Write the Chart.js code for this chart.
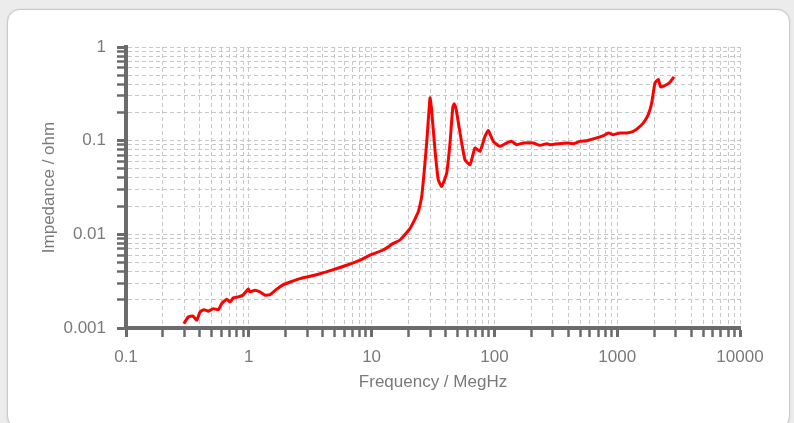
<!DOCTYPE html>
<html>
<head>
<meta charset="utf-8">
<script src="https://cdn.jsdelivr.net/npm/chart.js@4/dist/chart.umd.min.js"></script>
<style>
  html, body { margin: 0; padding: 0; background: #ececec; width: 794px; height: 423px; overflow: hidden; }
  #card { position: absolute; left: 7px; top: 9px; width: 783px; height: 420px; background: #fff;
          border: 1.5px solid #c9c9c9; border-radius: 13px; box-sizing: border-box;
          box-shadow: 0 0 2px rgba(0,0,0,0.12); }
  #wrap { position: absolute; left: 0; top: 0; width: 794px; height: 423px; }
</style>
</head>
<body>
<div id="card"></div>
<div id="wrap"><canvas id="c"></canvas></div>
<script>
// Data
const frequency = [
  0.296, 0.321, 0.351, 0.377, 0.400, 0.432, 0.468, 0.514, 0.565, 0.601,
  0.661, 0.703, 0.748, 0.821, 0.892, 0.991, 1.02, 1.12, 1.23, 1.36,
  1.49, 1.69, 1.91, 2.17, 2.61, 3.15, 3.80, 4.88, 6.27, 8.05,
  9.7, 12.4, 15.0, 17.0, 20.5, 24.0, 25.6, 28.1, 29.9, 30.8,
  32.8, 34.9, 37.2, 40.9, 43.5, 45.8, 47.0, 48.7, 52.5, 57.6, 63.3,
  69.5, 76.3, 83.8, 89.2, 97.9, 111, 126, 138, 152, 172,
  207, 235, 267, 284, 388, 439, 498, 565, 681, 771,
  847, 929, 1054, 1194, 1352, 1486, 1633, 1791, 1910, 2032,
  2162, 2260, 2450, 2690, 2900
];
const impedance = [
  0.00111, 0.00131, 0.00134, 0.00121, 0.00148, 0.00157, 0.00151, 0.00161, 0.00157, 0.00182,
  0.00203, 0.00190, 0.00210, 0.00215, 0.00224, 0.00260, 0.00243, 0.00253, 0.00243, 0.00224,
  0.00227, 0.00260, 0.00290, 0.00310, 0.00337, 0.00357, 0.00380, 0.00420, 0.00468, 0.00530,
  0.00600, 0.00680, 0.00800, 0.00870, 0.01150, 0.01740, 0.02540, 0.09520, 0.28600, 0.21500,
  0.08000, 0.03830, 0.03250, 0.04510, 0.09450, 0.22500, 0.24800, 0.22000, 0.12100, 0.06260, 0.05540,
  0.08360, 0.07680, 0.11100, 0.12800, 0.09830, 0.08690, 0.09450, 0.09830, 0.09060, 0.09450,
  0.09450, 0.08910, 0.09290, 0.09060, 0.09450, 0.09290, 0.09830, 0.10000, 0.10700, 0.11300,
  0.12100, 0.11600, 0.12100, 0.12100, 0.12600, 0.13700, 0.15500, 0.19000, 0.25300, 0.41400,
  0.44900, 0.37500, 0.38800, 0.42000, 0.48000
];
const xTickLabels = [0.1, 1, 10, 100, 1000, 10000];
const yTickLabels = [0.001, 0.01, 0.1, 1];
const xTitle = 'Frequency / MegHz';
const yTitle = 'Impedance / ohm';

function logTicks(majors) {
  const out = [];
  for (let i = 0; i < majors.length; i++) {
    const d = majors[i];
    if (i === majors.length - 1) { out.push(d); break; }
    for (let m = 1; m <= 9; m++) out.push(m * d);
  }
  return out;
}
const xTicks = logTicks(xTickLabels);
const yTicks = logTicks(yTickLabels);

const points = frequency.map((f, i) => ({ x: f, y: impedance[i] }));
const FONT = 'Liberation Sans, Arial, Helvetica, sans-serif';
const isMajor = (list, v) => list.some(m => Math.abs(v - m) / m < 1e-9);

new Chart(document.getElementById('c'), {
  type: 'line',
  data: {
    datasets: [{
      data: points,
      borderColor: '#ff0000',
      borderWidth: 3,
      pointRadius: 0,
      tension: 0.15,
      fill: false
    }]
  },
  options: {
    responsive: true,
    maintainAspectRatio: false,
    animation: false,
    events: [],
    layout: { padding: { top: 47, right: 54, left: 0, bottom: 0 } },
    plugins: { legend: { display: false }, tooltip: { enabled: false } },
    scales: {
      x: {
        type: 'logarithmic',
        min: xTickLabels[0],
        max: xTickLabels[xTickLabels.length - 1],
        afterBuildTicks: (s) => { s.ticks = xTicks.map(v => ({ value: v })); },
        afterFit: (s) => { s.height = 95; },
        ticks: {
          autoSkip: false, maxRotation: 0, minRotation: 0, padding: 10,
          color: '#7a7a7a', font: { family: FONT, size: 17 },
          callback: (v) => isMajor(xTickLabels, v) ? String(xTickLabels.find(m => Math.abs(v - m) / m < 1e-9)) : ''
        },
        grid: {
          color: '#c8c8c8', lineWidth: 1, tickLength: 9,
          tickColor: '#6b6b6b',
          tickWidth: (ctx) => (ctx.tick && isMajor(xTickLabels, ctx.tick.value)) ? 3 : 2.5
        },
        border: { display: true, color: '#6b6b6b', width: 4, dash: [4, 3] },
        title: { display: true, text: xTitle, color: '#7a7a7a', font: { family: FONT, size: 17 }, padding: { top: 0, bottom: 30 } }
      },
      y: {
        type: 'logarithmic',
        min: yTickLabels[0],
        max: yTickLabels[yTickLabels.length - 1],
        afterBuildTicks: (s) => { s.ticks = yTicks.map(v => ({ value: v })); },
        afterFit: (s) => { s.width = 126; },
        ticks: {
          autoSkip: false, padding: 11,
          color: '#7a7a7a', font: { family: FONT, size: 17 },
          callback: (v) => isMajor(yTickLabels, v) ? String(yTickLabels.find(m => Math.abs(v - m) / m < 1e-9)) : ''
        },
        grid: {
          color: '#c8c8c8', lineWidth: 1, tickLength: 9,
          tickColor: '#6b6b6b',
          tickWidth: (ctx) => (ctx.tick && isMajor(yTickLabels, ctx.tick.value)) ? 3 : 2.5
        },
        border: { display: true, color: '#6b6b6b', width: 4, dash: [4, 3] },
        title: { display: true, text: yTitle, color: '#7a7a7a', font: { family: FONT, size: 17 }, padding: { top: 39, bottom: 0 } }
      }
    }
  }
});
</script>
</body>
</html>
